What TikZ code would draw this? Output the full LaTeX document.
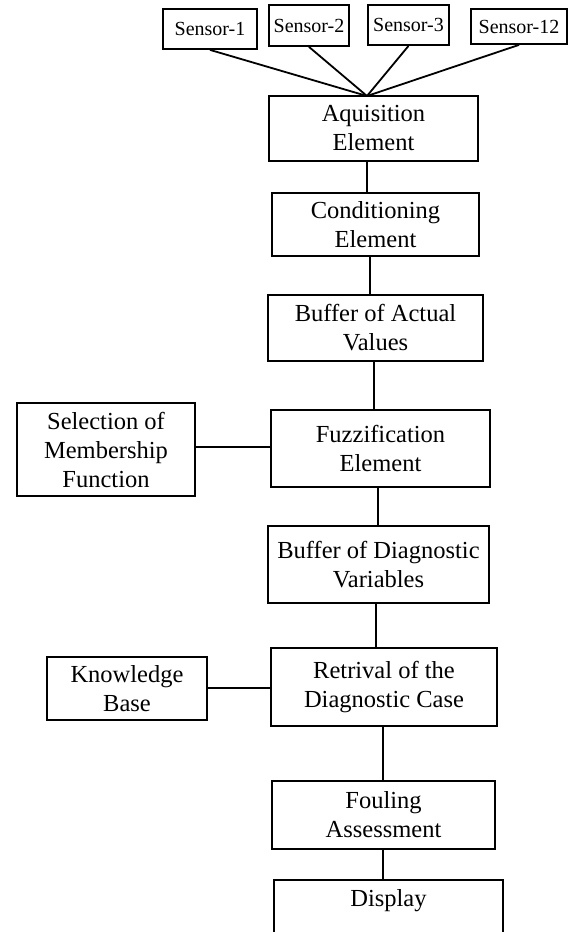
\documentclass[tikz,border=0pt]{standalone}
\usepackage{fontspec}
\setmainfont{Liberation Serif}
\begin{document}
\begin{tikzpicture}[x=1pt,y=-1pt,
  box/.style={draw, line width=1.8pt, inner sep=0pt, align=center,
    font=\fontsize{24.5}{29}\selectfont},
  sbox/.style={draw, line width=1.8pt, inner sep=0pt, align=center,
    font=\fontsize{20}{24}\selectfont},
  conn/.style={line width=1.8pt}]
\useasboundingbox (0,0) rectangle (573,932);
% sensors
\node[sbox, minimum width=94, minimum height=40] (s1) at (210,29) {Sensor-1};
\node[sbox, minimum width=80, minimum height=41] (s2) at (309,25.5) {Sensor-2};
\node[sbox, minimum width=81, minimum height=40] (s3) at (408.5,25) {Sensor-3};
\node[sbox, minimum width=96, minimum height=35] (s12) at (519,26.5) {Sensor-12};
% main chain
\node[box, minimum width=209, minimum height=65] (aq) at (373.5,128.5) {Aquisition\\Element};
\node[box, minimum width=207, minimum height=63] (cond) at (375.5,224.5) {Conditioning\\Element};
\node[box, minimum width=215, minimum height=66] (bufa) at (375.5,328) {Buffer of Actual\\Values};
\node[box, minimum width=219, minimum height=77] (fuzz) at (380.5,448.5) {Fuzzification\\Element};
\node[box, minimum width=178, minimum height=93] (sel) at (106,449.5) {Selection of\\Membership\\Function};
\node[box, minimum width=221, minimum height=77] (bufd) at (378.5,564.5) {Buffer of Diagnostic\\Variables};
\node[box, minimum width=226, minimum height=78] (ret) at (384,687) {Retrival of the\\Diagnostic Case};
\node[box, minimum width=160, minimum height=63] (kb) at (127,688.5) {Knowledge\\Base};
\node[box, minimum width=223, minimum height=68] (foul) at (383.5,815) {Fouling\\Assessment};
\node[inner sep=0pt, font=\fontsize{24.5}{29}\selectfont, minimum width=229, minimum height=40, anchor=north] (disp) at (388.5,880) {Display};
\coordinate (dbot) at (0,936);
\draw[conn] (disp.west |- dbot) -- (disp.north west) -- (disp.north east) -- (disp.east |- dbot);
% junction
\coordinate (j) at (367,96);
\foreach \s in {s1,s2,s3,s12} \draw[conn] (\s.south) -- (j);
% vertical connectors
\coordinate (x1) at (367,0);
\coordinate (x2) at (370,0);
\coordinate (x3) at (374,0);
\coordinate (x4) at (378,0);
\coordinate (x5) at (376,0);
\coordinate (x6) at (383,0);
\draw[conn] (aq.south -| x1) -- (cond.north -| x1);
\draw[conn] (cond.south -| x2) -- (bufa.north -| x2);
\draw[conn] (bufa.south -| x3) -- (fuzz.north -| x3);
\draw[conn] (fuzz.south -| x4) -- (bufd.north -| x4);
\draw[conn] (bufd.south -| x5) -- (ret.north -| x5);
\draw[conn] (ret.south -| x6) -- (foul.north -| x6);
\draw[conn] (foul.south -| x6) -- (disp.north -| x6);
% horizontal connectors
\coordinate (y1) at (0,447);
\coordinate (y2) at (0,688);
\draw[conn] (sel.east |- y1) -- (fuzz.west |- y1);
\draw[conn] (kb.east |- y2) -- (ret.west |- y2);
\end{tikzpicture}
\end{document}
